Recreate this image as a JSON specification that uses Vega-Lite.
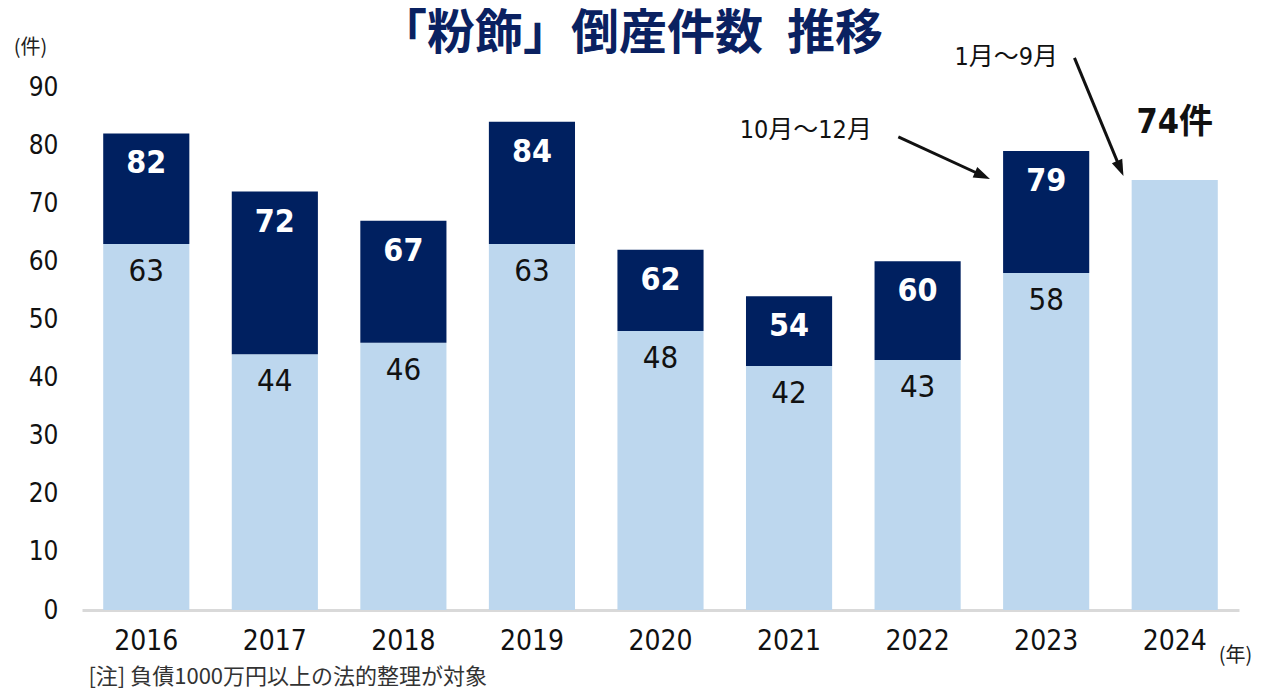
{
  "$schema": "https://vega.github.io/schema/vega-lite/v6.json",
  "width": 1157,
  "height": 523,
  "autosize": {"type": "none"},
  "padding": {"left": 82, "top": 87, "right": 33, "bottom": 81},
  "background": "white",
  "config": {"view": {"stroke": null}},
  "datasets": {
    "years": [
      {"year": "2016", "jan_sep": 63, "total": 82},
      {"year": "2017", "jan_sep": 44, "total": 72},
      {"year": "2018", "jan_sep": 46, "total": 67},
      {"year": "2019", "jan_sep": 63, "total": 84},
      {"year": "2020", "jan_sep": 48, "total": 62},
      {"year": "2021", "jan_sep": 42, "total": 54},
      {"year": "2022", "jan_sep": 43, "total": 60},
      {"year": "2023", "jan_sep": 58, "total": 79},
      {"year": "2024", "jan_sep": 74, "total": null}
    ],
    "notes": [
      {"id": "title", "label": "「粉飾」倒産件数\u2002推移", "x": 3.77, "y": 99.0},
      {"id": "t1", "label": "1月〜9月", "x": 6.69, "y": 95.2},
      {"id": "t2", "label": "10月〜12月", "x": 5.13, "y": 82.6},
      {"id": "note", "label": "[注] 負債1000万円以上の法的整理が対象", "x": -0.45, "y": -11.5}
    ],
    "arrows": [
      {"id": "a1", "x": 7.22, "y": 95.0, "x2": 7.57, "y2": 76.3},
      {"id": "a2", "x": 5.85, "y": 81.4, "x2": 6.49, "y2": 74.9}
    ]
  },
  "layer": [
    {
      "data": {"name": "years"},
      "encoding": {
        "x": {
          "field": "year",
          "type": "ordinal",
          "scale": {"paddingInner": 0.33, "paddingOuter": 0.165},
          "axis": {
            "title": "(年)",
            "titleFont": "Noto Sans CJK JP",
            "titleFontSize": 20,
            "titleFontWeight": "normal",
            "titleColor": "#222222",
            "titleX": 1153,
            "titleY": 45,
            "titleAlign": "center",
            "titleBaseline": "middle",
            "labelAngle": 0,
            "labelFont": "DejaVu Sans Condensed, Roboto, sans-serif",
            "labelFontSize": 28,
            "labelColor": "#111111",
            "labelPadding": 17,
            "ticks": false,
            "domainColor": "#d9d9d9",
            "domainWidth": 3,
            "grid": false
          }
        }
      },
      "layer": [
        {
          "mark": {"type": "bar", "color": "#bdd7ee"},
          "encoding": {
            "y": {
              "field": "jan_sep",
              "type": "quantitative",
              "scale": {"domain": [0, 90], "nice": false},
              "axis": {
                "title": "(件)",
                "titleFont": "Noto Sans CJK JP",
                "titleFontSize": 20,
                "titleFontWeight": "normal",
                "titleColor": "#222222",
                "titleAngle": 0,
                "titleX": -52,
                "titleY": -40,
                "titleAlign": "center",
                "titleBaseline": "middle",
                "values": [0, 10, 20, 30, 40, 50, 60, 70, 80, 90],
                "labelFont": "DejaVu Sans Condensed, Roboto, sans-serif",
                "labelFontSize": 26,
                "labelColor": "#111111",
                "labelPadding": 24,
                "ticks": false,
                "domain": false,
                "grid": false
              }
            }
          }
        },
        {
          "transform": [{"filter": "datum.total != null"}],
          "mark": {"type": "bar", "color": "#002060"},
          "encoding": {
            "y": {"field": "total", "type": "quantitative"},
            "y2": {"field": "jan_sep"}
          }
        },
        {
          "transform": [{"filter": "datum.total != null"}],
          "mark": {
            "type": "text",
            "font": "DejaVu Sans Condensed, Roboto, sans-serif",
            "fontSize": 32,
            "fontWeight": "bold",
            "color": "white",
            "baseline": "middle",
            "dy": 30
          },
          "encoding": {
            "y": {"field": "total", "type": "quantitative"},
            "text": {"field": "total", "type": "quantitative"}
          }
        },
        {
          "transform": [{"filter": "datum.year != '2024'"}],
          "mark": {
            "type": "text",
            "font": "DejaVu Sans Condensed, Roboto, sans-serif",
            "fontSize": 31,
            "color": "#111111",
            "baseline": "middle",
            "dy": 28
          },
          "encoding": {
            "y": {"field": "jan_sep", "type": "quantitative"},
            "text": {"field": "jan_sep", "type": "quantitative"}
          }
        },
        {
          "transform": [
            {"filter": "datum.year == '2024'"},
            {"calculate": "datum.jan_sep + '件'", "as": "lab"}
          ],
          "mark": {
            "type": "text",
            "font": "DejaVu Sans Condensed, Noto Sans CJK JP",
            "fontSize": 34,
            "fontWeight": "bold",
            "color": "#111111",
            "baseline": "middle",
            "dy": -57
          },
          "encoding": {
            "y": {"field": "jan_sep", "type": "quantitative"},
            "text": {"field": "lab"}
          }
        }
      ]
    },
    {
      "data": {"name": "arrows"},
      "layer": [
        {
          "mark": {"type": "rule", "strokeWidth": 3, "color": "#111111"},
          "encoding": {
            "x": {"field": "x", "type": "quantitative", "scale": {"domain": [-0.5, 8.5], "nice": false, "zero": false}, "axis": null},
            "y": {"field": "y", "type": "quantitative"},
            "x2": {"field": "x2"},
            "y2": {"field": "y2"}
          }
        },
        {
          "mark": {"type": "point", "shape": "M0,-1L0.55,0.6L-0.55,0.6Z", "filled": true, "color": "#111111", "size": 420, "opacity": 1},
          "encoding": {
            "x": {"field": "x2", "type": "quantitative", "scale": {"domain": [-0.5, 8.5], "nice": false, "zero": false}, "axis": null},
            "y": {"field": "y2", "type": "quantitative"},
            "angle": {"condition": {"test": "datum.id == 'a1'", "value": 157}, "value": 114}
          }
        }
      ]
    },
    {
      "data": {"name": "notes"},
      "layer": [
        {
          "transform": [{"filter": "datum.id == 'title'"}],
          "mark": {"type": "text", "baseline": "middle", "align": "center", "font": "Noto Sans CJK JP", "fontSize": 48, "fontWeight": "bold", "color": "#0a2161"},
          "encoding": {
            "x": {"field": "x", "type": "quantitative", "scale": {"domain": [-0.5, 8.5], "nice": false, "zero": false}, "axis": null},
            "y": {"field": "y", "type": "quantitative"},
            "text": {"field": "label"}
          }
        },
        {
          "transform": [{"filter": "datum.id == 't1' || datum.id == 't2'"}],
          "mark": {"type": "text", "baseline": "middle", "align": "center", "font": "DejaVu Sans Condensed, Noto Sans CJK JP", "fontSize": 25, "color": "#111111"},
          "encoding": {
            "x": {"field": "x", "type": "quantitative", "scale": {"domain": [-0.5, 8.5], "nice": false, "zero": false}, "axis": null},
            "y": {"field": "y", "type": "quantitative"},
            "text": {"field": "label"}
          }
        },
        {
          "transform": [{"filter": "datum.id == 'note'"}],
          "mark": {"type": "text", "baseline": "middle", "align": "left", "font": "Noto Sans CJK JP", "fontSize": 22, "color": "#333333"},
          "encoding": {
            "x": {"field": "x", "type": "quantitative", "scale": {"domain": [-0.5, 8.5], "nice": false, "zero": false}, "axis": null},
            "y": {"field": "y", "type": "quantitative"},
            "text": {"field": "label"}
          }
        }
      ]
    }
  ],
  "resolve": {"scale": {"x": "independent"}, "axis": {"x": "independent"}}
}
